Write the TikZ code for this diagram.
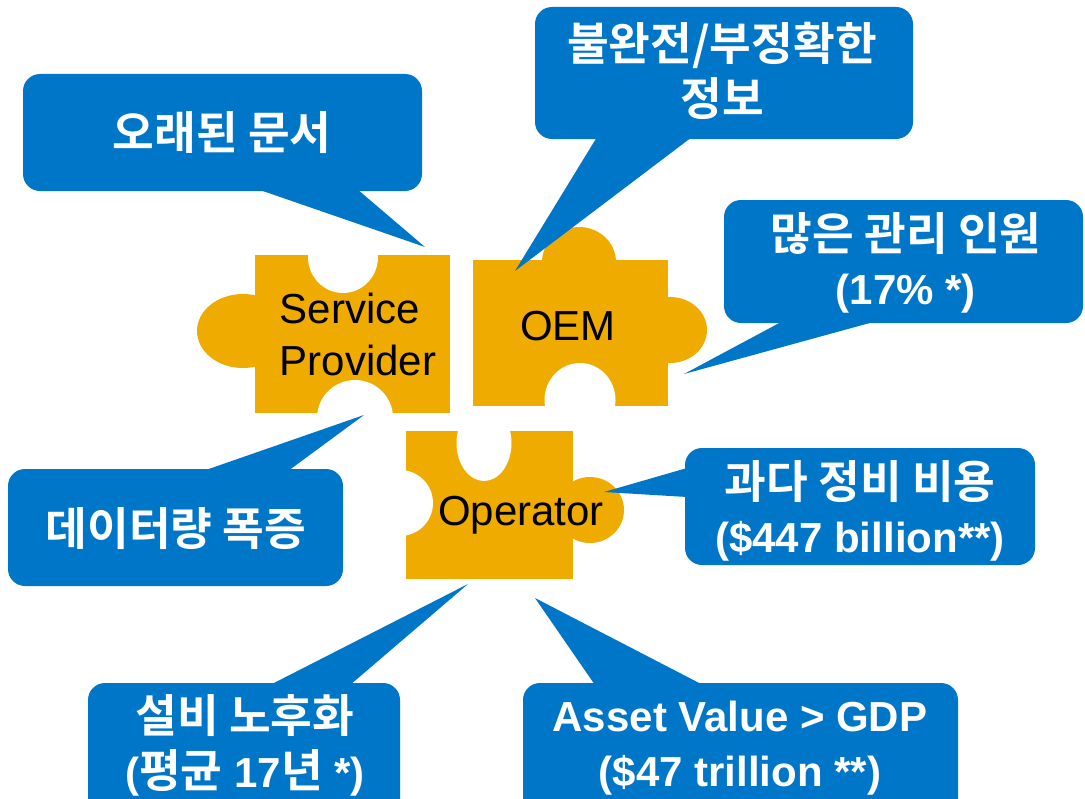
\documentclass[tikz,border=0pt]{standalone}
\usepackage{fontspec}
\setmainfont{Liberation Sans}
\newfontfamily\krfont{Noto Sans CJK KR}[BoldFont=* Bold]
\newfontfamily\latfont{Liberation Sans}
\definecolor{calloutblue}{HTML}{0076C8}
\definecolor{piecegold}{HTML}{F0AB00}
\newcommand\ko[1]{{\krfont\bfseries\fontsize{34}{41}\selectfont #1}}
\tikzset{
  callout/.style={fill=calloutblue, rounded corners=12.75pt},
  pointer/.style={fill=calloutblue},
  ctext/.style={text=white, inner sep=0pt, align=center,
    font=\latfont\bfseries\fontsize{31.5}{41}\selectfont},
  piece/.style={fill=piecegold},
  notch/.style={fill=white},
  ptext/.style={text=black, inner sep=0pt, font=\fontsize{31.5}{39}\selectfont}
}
\begin{document}
\begin{tikzpicture}[x=0.75pt,y=-0.75pt]
\useasboundingbox (0,0) rectangle (1085,799);
\clip (0,0) rectangle (1085,799);
\fill[white] (0,0) rectangle (1085,799);

% ---------- puzzle pieces ----------
% Service Provider
\fill[piece] (243,331) ellipse [x radius=46, y radius=37];
\begin{scope}
  \clip (255,255) rectangle (450,413);
  \fill[piece] (255,255) rectangle (450,413);
  \fill[notch] (343,257) ellipse [x radius=35, y radius=36];
  \fill[notch] (355,418) ellipse [x radius=38, y radius=38];
\end{scope}
\node[ptext, align=left] (sp) at (358,334) {Service\\Provider};

% OEM
\fill[piece] (579,262) ellipse [x radius=37, y radius=35];
\fill[piece] (670,330) ellipse [x radius=37, y radius=33];
\begin{scope}
  \clip (473,260) rectangle (668,406);
  \fill[piece] (473,260) rectangle (668,406);
  \fill[notch] (580,400) ellipse [x radius=35.5, y radius=37];
\end{scope}
\node[ptext, anchor=base] (oem) at (568,340) {OEM};

% Operator
\fill[piece] (590,510) ellipse [x radius=34, y radius=33];
\begin{scope}
  \clip (406,431) rectangle (573,579);
  \fill[piece] (406,431) rectangle (573,579);
  \fill[notch] (484,443) ellipse [x radius=27.5, y radius=38];
  \fill[notch] (400,503) ellipse [x radius=33, y radius=33];
\end{scope}
\node[ptext, anchor=base] (op) at (521,525) {Operator};

% ---------- pointer tips ----------
\coordinate (tipA) at (425,247);
\coordinate (tipB) at (515,271);
\coordinate (tipC) at (684,374);
\coordinate (tipD) at (604,492);
\coordinate (tipE) at (364,415);
\coordinate (tipF) at (468,584);
\coordinate (tipG) at (535,598);

% ---------- callouts ----------
% 1
\fill[callout] (23,74) rectangle (422,191);
\fill[pointer] (257,189) -- (357,189) -- (tipA) -- cycle;
\node[ctext] (c1) at (222,133) {\ko{오래된 문서}};

% 2
\fill[callout] (535,7) rectangle (913,139);
\fill[pointer] (597,137) -- (692,137) -- (tipB) -- cycle;
\node[ctext] (c2) at (722,71) {\ko{불완전/부정확한}\\\ko{정보}};

% 3
\fill[callout] (724,200) rectangle (1083,323);
\fill[pointer] (783,321) -- (877,321) -- (tipC) -- cycle;
\node[ctext] (c3) at (906,263) {\ko{많은 관리 인원}\\(17\% *)};

% 4
\fill[callout] (685,448) rectangle (1035,565);
\fill[pointer] (687,468) -- (687,497) -- (tipD) -- cycle;
\node[ctext] (c4) at (860,511) {\ko{과다 정비 비용}\\(\$447 billion**)};

% 5
\fill[callout] (8,469) rectangle (343,586);
\fill[pointer] (203,471) -- (288,471) -- (tipE) -- cycle;
\node[ctext] (c5) at (176,529) {\ko{데이터량 폭증}};

% 6
\fill[callout] (88,683) rectangle (400,830);
\fill[pointer] (270,685) -- (350,685) -- (tipF) -- cycle;
\node[ctext] (c6) at (245,745) {\ko{설비 노후화}\\(\ko{평균} 17\ko{년} *)};

% 7
\fill[callout] (523,683) rectangle (958,830);
\fill[pointer] (595,685) -- (703,685) -- (tipG) -- cycle;
\node[ctext] (c7) at (740,748) {Asset Value > GDP\\(\$47 trillion **)};
\end{tikzpicture}
\end{document}
